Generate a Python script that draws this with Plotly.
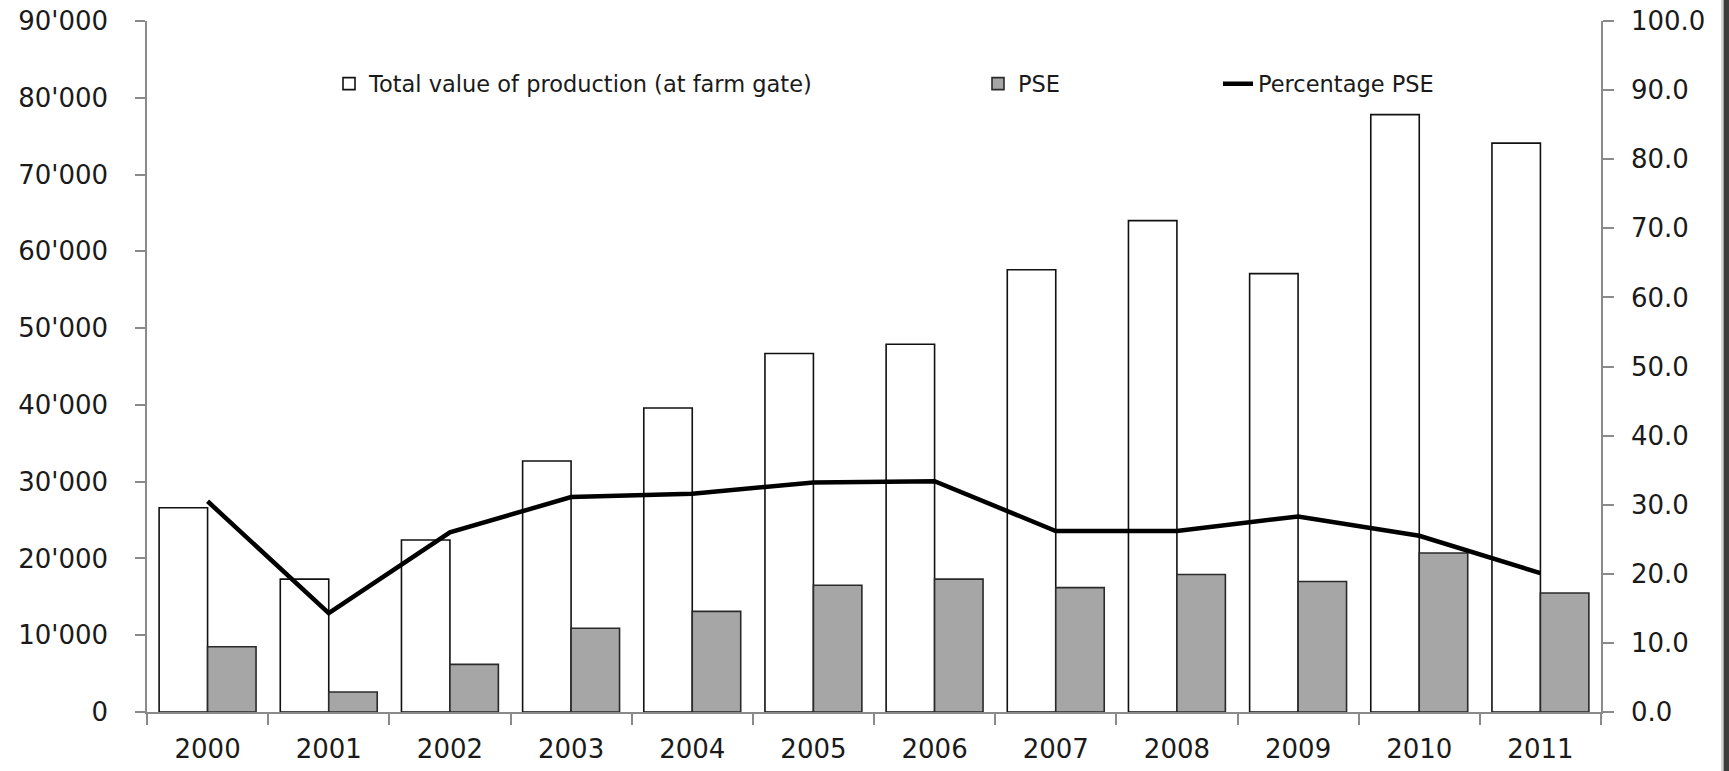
import plotly.graph_objects as go

years = ["2000", "2001", "2002", "2003", "2004", "2005", "2006", "2007", "2008", "2009", "2010", "2011"]
total_value = [26600, 17300, 22400, 32700, 39600, 46700, 47900, 57600, 64000, 57100, 77800, 74100]
pse = [8500, 2600, 6200, 10900, 13100, 16500, 17300, 16200, 17900, 17000, 20700, 15500]
pct_pse = [30.5, 14.3, 26.0, 31.1, 31.6, 33.2, 33.4, 26.2, 26.2, 28.3, 25.5, 20.1]

W, H = 1729, 771
X0, X1 = 147, 1601      # plot area in page pixels
Y0, Y1 = 21, 711.7
L, R, T, B = X0, W - X1, Y0, H - Y1
pw = X1 - X0
ph = Y1 - Y0

def px(x):
    return (x - X0) / pw

def py(y):
    return (Y1 - y) / ph

tick_font = dict(family="DejaVu Sans", size=26, color="#1a1a1a")
leg_font = dict(family="DejaVu Sans", size=22.5, color="#1a1a1a")
axis_col = "#8a8a8a"

fig = go.Figure()
fig.add_trace(go.Bar(
    x=years, y=total_value, name="Total value of production (at farm gate)",
    marker=dict(color="white", line=dict(color="#111111", width=1.6)),
    legend="legend",
))
fig.add_trace(go.Bar(
    x=years, y=pse, name="PSE",
    marker=dict(color="#a6a6a6", line=dict(color="#2a2a2a", width=1.6)),
    legend="legend2",
))
fig.add_trace(go.Scatter(
    x=years, y=pct_pse, name="Percentage PSE", mode="lines",
    line=dict(color="black", width=4.5),
    yaxis="y2", legend="legend3",
))

leg_common = dict(orientation="h", yanchor="middle", y=py(84), xanchor="left",
                  bgcolor="rgba(0,0,0,0)", font=leg_font, itemwidth=30)

fig.update_layout(
    width=W, height=H,
    margin=dict(l=L, r=R, t=T, b=B, pad=0, autoexpand=False),
    paper_bgcolor="white", plot_bgcolor="white",
    separators=".'",
    barmode="group", bargap=0.2, bargroupgap=0,
    showlegend=True,
    legend=dict(x=px(329), **leg_common),
    legend2=dict(x=px(978), **leg_common),
    legend3=dict(x=px(1218), **leg_common),
    xaxis=dict(
        type="category", showgrid=False, showline=True, linecolor=axis_col, linewidth=1.5,
        ticks="outside", tickson="boundaries", ticklen=11, tickcolor=axis_col, tickwidth=1.5,
        tickfont=tick_font, zeroline=False, ticklabelstandoff=13, automargin=False,
    ),
    yaxis=dict(
        range=[0, 90000], dtick=10000, tickformat=",d", showgrid=False, zeroline=False,
        showline=True, linecolor=axis_col, linewidth=1.5,
        ticks="outside", ticklen=10, tickcolor=axis_col, tickwidth=1.5,
        tickfont=tick_font, ticklabelstandoff=22, ticklabeloverflow="allow", automargin=False,
    ),
    yaxis2=dict(
        range=[0, 100], dtick=10, tickformat=".1f", overlaying="y", side="right",
        showgrid=False, zeroline=False, showline=True, linecolor=axis_col, linewidth=1.5,
        ticks="outside", ticklen=11, tickcolor=axis_col, tickwidth=1.5,
        tickfont=tick_font, ticklabelstandoff=12, ticklabeloverflow="allow", automargin=False,
    ),
    shapes=[
        dict(type="rect", xref="paper", yref="paper", x0=px(1723.5), x1=px(1735),
             y0=-0.2, y1=1.2, fillcolor="#3c3c3c", line=dict(width=0), layer="above"),
        dict(type="line", xref="paper", yref="paper", x0=px(1722), x1=px(1722),
             y0=-0.2, y1=1.2, line=dict(color="#a8a8a8", width=1), layer="above"),
    ],
)

fig.write_html(
    "out.html",
    config={"displayModeBar": False},
    post_script="document.body.style.margin='0';document.body.style.overflow='hidden';",
)
